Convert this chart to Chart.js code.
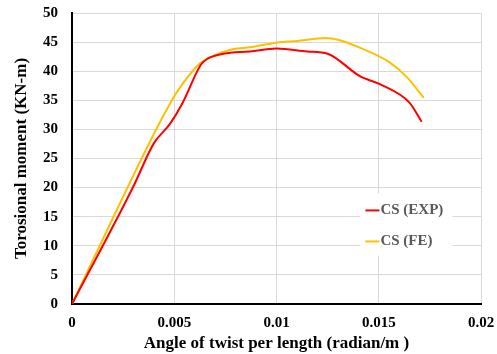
<!DOCTYPE html>
<html>
<head>
<meta charset="utf-8">
<script src="https://cdn.jsdelivr.net/npm/chart.js@4"></script>
<style>
  html, body { margin: 0; padding: 0; background: #fff; }
  #wrap { width: 497px; height: 354px; position: relative; }
</style>
</head>
<body>
<div id="wrap"><canvas id="torsion"></canvas></div>
<script>
// values
const expTwist  = [0, 0.003, 0.004, 0.0048, 0.0054, 0.0063, 0.0066, 0.0074, 0.0087, 0.010, 0.0115, 0.0125, 0.0141, 0.0151, 0.0165, 0.0171];
const expMoment = [0, 20.2, 27.6, 31, 34.5, 41.1, 42.1, 43, 43.4, 43.9, 43.4, 43, 39.1, 37.7, 34.6, 31.3];
const feTwist   = [0, 0.0041, 0.0049, 0.0052, 0.0061, 0.0064, 0.0079, 0.0087, 0.010, 0.011, 0.0124, 0.013, 0.0141, 0.0155, 0.0164, 0.0172];
const feMoment  = [0, 29.9, 35.1, 36.8, 40.8, 41.7, 43.8, 44.1, 44.9, 45.2, 45.7, 45.4, 44, 41.6, 38.9, 35.4];
const xTickLabels = ["0", "0.005", "0.01", "0.015", "0.02"];
const seriesNames = ["CS (EXP)", "CS (FE)"];

const serif = "'Liberation Serif', 'Times New Roman', serif";

const toPoints = (xs, ys) => xs.map((x, i) => ({ x, y: ys[i] }));

// legend drawn inside the plot, on a white box
const innerLegend = {
  id: "innerLegend",
  afterDatasetsDraw(chart) {
    const ctx = chart.ctx;
    const xs = chart.scales.x, ys = chart.scales.y;
    const left = xs.getPixelForValue(0.0143);
    const top = ys.getPixelForValue(19.0);
    ctx.save();
    ctx.fillStyle = "#fff";
    ctx.fillRect(left - 4, top, 92, 62);
    ctx.font = "bold 15px " + serif;
    ctx.textBaseline = "middle";
    chart.data.datasets.forEach((ds, i) => {
      const y = top + 17 + i * 31;
      ctx.strokeStyle = ds.borderColor;
      ctx.lineWidth = 2;
      ctx.beginPath();
      ctx.moveTo(left + 1, y);
      ctx.lineTo(left + 15, y);
      ctx.stroke();
      ctx.fillStyle = "#595959";
      ctx.fillText(ds.label, left + 16, y);
    });
    ctx.restore();
  }
};

new Chart(document.getElementById("torsion").getContext("2d"), {
  type: "line",
  data: {
    datasets: [
      {
        label: seriesNames[0],
        data: toPoints(expTwist, expMoment),
        borderColor: "#ff0000",
        borderWidth: 2,
        pointRadius: 0,
        cubicInterpolationMode: "monotone",
        fill: false
      },
      {
        label: seriesNames[1],
        data: toPoints(feTwist, feMoment),
        borderColor: "#ffc000",
        borderWidth: 2,
        pointRadius: 0,
        cubicInterpolationMode: "monotone",
        fill: false
      }
    ]
  },
  options: {
    responsive: true,
    maintainAspectRatio: false,
    animation: false,
    layout: { padding: { top: 13, right: 16, left: 0, bottom: 0 } },
    plugins: {
      legend: { display: false },
      tooltip: { enabled: false }
    },
    scales: {
      x: {
        type: "linear",
        min: 0,
        max: 0.02,
        afterFit: s => { s.height = 50; s.paddingLeft = 0; s.paddingRight = 0; },
        afterBuildTicks: s => { s.ticks = xTickLabels.map(t => ({ value: parseFloat(t) })); },
        grid: { color: "#d9d9d9", drawTicks: false },
        border: { color: "#000", width: 2 },
        ticks: {
          color: "#000",
          padding: 10,
          font: { family: serif, size: 15, weight: "bold" },
          callback: (v, i) => xTickLabels[i]
        },
        title: {
          display: true,
          text: "Angle of twist per length (radian/m )",
          color: "#000",
          padding: { top: 0, bottom: 0 },
          font: { family: serif, size: 17, weight: "bold" }
        }
      },
      y: {
        min: 0,
        max: 50,
        afterFit: s => { s.width = 72; s.paddingTop = 0; s.paddingBottom = 0; },
        grid: { color: "#d9d9d9", drawTicks: false },
        border: { color: "#000", width: 2 },
        ticks: {
          stepSize: 5,
          color: "#000",
          padding: 14,
          font: { family: serif, size: 15, weight: "bold" }
        },
        title: {
          display: true,
          text: "Torosional moment (KN-m)",
          color: "#000",
          padding: { top: 11, bottom: 0 },
          font: { family: serif, size: 17, weight: "bold" }
        }
      }
    }
  },
  plugins: [innerLegend]
});
</script>
</body>
</html>
